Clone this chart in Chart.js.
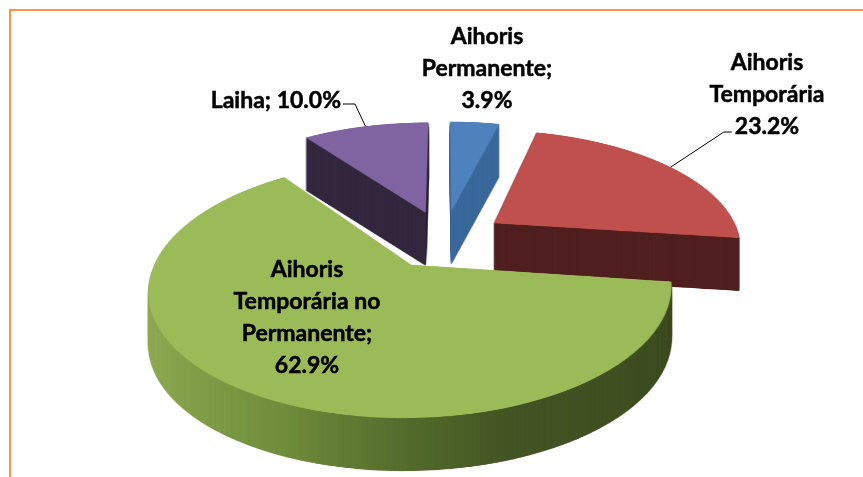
<!DOCTYPE html>
<html>
<head>
<meta charset="utf-8">
<script src="https://cdn.jsdelivr.net/npm/chart.js@4.4.1/dist/chart.umd.min.js"></script>
<style>
  html, body { margin: 0; padding: 0; overflow: hidden; background: #fff; }
  #wrap { position: relative; width: 863px; height: 477px; }
  #frame { position: absolute; left: 9px; top: 9px; width: 900px; height: 520px;
           border: 2px solid #f79646; box-sizing: border-box; }
  canvas { position: absolute; left: 0; top: 0; }
</style>
</head>
<body>
<div id="wrap">
  <div id="frame"></div>
  <canvas id="pie" width="863" height="477"></canvas>
</div>
<script>
// ---- data ----
const categories = ["Aihoris Permanente", "Aihoris Temporária", "Aihoris Temporária no Permanente", "Laiha"];
const shares = [3.9, 23.2, 62.9, 10.0];
const labelLines = [
  ["Aihoris", "Permanente;"],
  ["Aihoris", "Temporária"],
  ["Aihoris", "Temporária no", "Permanente;"],
  ["Laiha;"]
];

// ---- styles ----
const topColors = ["#4f81bd", "#c0504d", "#9bbb59", "#8064a2"];
const sideFills = [
  "#3b699c",
  "#501f1f",
  [[150, "#8eab52"], [300, "#718e3c"], [420, "#52692c"], [500, "#435524"], [670, "#3d4c20"]],
  "#33283e"
];
const FONT = "bold 23px Lato, 'DejaVu Sans', sans-serif";

// ---- fake 3d: perspective warp of the flat pie ----
const CX = 444, CY = 239;   // screen position of the pie centre
const SX = 1.372;           // horizontal scale
const B = 0.64;             // vertical scale
const PERSP = 0.001;        // perspective strength (front gets bigger)
const EXPLODE = 45;         // explode distance (chart units)
const DEPTH = 53;           // thickness in px
const RADIUS = 180;
const HALF = 240, SS = 2;   // offscreen half size (chart units) and supersampling

function toScreen(u, v) {
  const w = 1 / (1 - PERSP * v);
  return [CX + SX * u * w, CY + B * v * w];
}
function rowToV(y) {
  const Y = y - CY;
  return Y / (B + PERSP * Y);
}

function flatCanvas() {
  const c = document.createElement("canvas");
  c.width = c.height = HALF * 2 * SS;
  return c;
}

function fillFor(ctx, style, arc, ex) {
  if (!Array.isArray(style)) return style;
  const u = sx => arc.x - ex + (sx - CX) / (SX * 1.1);
  const first = style[0][0], last = style[style.length - 1][0];
  const g = ctx.createLinearGradient(u(first), 0, u(last), 0);
  style.forEach(([sx, c]) => g.addColorStop((sx - first) / (last - first), c));
  return g;
}

// draw every arc of the chart (flat, exploded) into an offscreen canvas
function renderFlat(arcs, styles) {
  const c = flatCanvas();
  const ctx = c.getContext("2d");
  arcs.forEach((arc, i) => {
    const mid = (arc.startAngle + arc.endAngle) / 2;
    const ex = Math.cos(mid) * EXPLODE, ey = Math.sin(mid) * EXPLODE;
    const saved = arc.options;
    ctx.setTransform(SS, 0, 0, SS, HALF * SS, HALF * SS);
    ctx.translate(ex - arc.x, ey - arc.y);
    arc.options = Object.assign({}, saved, { backgroundColor: fillFor(ctx, styles[i], arc, ex), borderWidth: 0 });
    arc.draw(ctx);
    arc.options = saved;
  });
  return c;
}

// row by row perspective warp of a flat image onto ctx
function warp(src, ctx) {
  ctx.save();
  ctx.imageSmoothingEnabled = true;
  ctx.imageSmoothingQuality = "high";
  const y0 = Math.floor(toScreen(0, -HALF)[1]);
  const y1 = Math.ceil(toScreen(0, HALF)[1]);
  for (let y = y0; y < y1; y++) {
    const va = rowToV(y), vb = rowToV(y + 1);
    const w = 1 / (1 - PERSP * (va + vb) / 2);
    const sy = (va + HALF) * SS, sh = (vb - va) * SS;
    if (sy < 0 || sy + sh > src.height) continue;
    ctx.drawImage(src, 0, sy, src.width, sh, CX - SX * w * HALF, y, SX * w * HALF * 2, 1);
  }
  ctx.restore();
}

const pie3d = {
  id: "pie3d",
  beforeDatasetsDraw(chart) {
    const ctx = chart.ctx;
    const arcs = chart.getDatasetMeta(0).data;
    // side walls: warped silhouette stacked downwards
    const side = document.createElement("canvas");
    side.width = chart.width; side.height = chart.height;
    warp(renderFlat(arcs, sideFills), side.getContext("2d"));
    for (let d = DEPTH; d >= 1; d--) ctx.drawImage(side, 0, d);
    // top faces
    warp(renderFlat(arcs, topColors), ctx);
    return false;
  }
};

// label placement (screen px)
const labelPos = [
  { x: 487, y: 37, align: "center" },
  { x: 767, y: 63, align: "center" },
  { x: 307, y: 270, align: "center" },
  { x: 341, y: 101, align: "right" }
];
const LINE_H = 32;

function edgePoint(arc) {
  const mid = (arc.startAngle + arc.endAngle) / 2;
  const r = EXPLODE + arc.outerRadius;
  return toScreen(Math.cos(mid) * r, Math.sin(mid) * r);
}

const labels = {
  id: "labels",
  afterDraw(chart) {
    const ctx = chart.ctx;
    const arcs = chart.getDatasetMeta(0).data;
    ctx.save();
    ctx.font = FONT;
    ctx.fillStyle = "#000";
    ctx.strokeStyle = "#000";
    ctx.lineWidth = 0.5;
    ctx.textBaseline = "middle";
    labelPos.forEach((p, i) => {
      const lines = labelLines[i].slice();
      const pct = shares[i].toFixed(1) + "%";
      if (i === 3) lines[0] = lines[0] + " " + pct; else lines.push(pct);
      ctx.textAlign = p.align;
      lines.forEach((t, j) => {
        ctx.fillText(t, p.x, p.y + j * LINE_H);
        ctx.strokeText(t, p.x, p.y + j * LINE_H);
      });
    });

    // leader lines
    ctx.lineWidth = 1;
    let [ax, ay] = edgePoint(arcs[3]);
    let p = labelPos[3];
    ctx.beginPath();
    ctx.moveTo(p.x + 2, p.y + 3);
    ctx.lineTo(p.x + 14, p.y + 3);
    ctx.lineTo(ax, ay);
    ctx.stroke();

    [ax, ay] = edgePoint(arcs[1]);
    p = labelPos[1];
    const ly = p.y + 2 * LINE_H;
    const w = ctx.measureText(shares[1].toFixed(1) + "%").width;
    ctx.beginPath();
    ctx.moveTo(p.x - w / 2 - 3, ly + 5);
    ctx.lineTo(p.x - w / 2 - 11, ly + 5);
    ctx.lineTo(ax, ay);
    ctx.stroke();
    ctx.restore();
  }
};

new Chart(document.getElementById("pie"), {
  type: "pie",
  data: {
    labels: categories,
    datasets: [{
      data: shares,
      backgroundColor: topColors,
      borderWidth: 0
    }]
  },
  options: {
    responsive: false,
    animation: false,
    radius: RADIUS,
    events: [],
    plugins: { legend: { display: false }, tooltip: { enabled: false } }
  },
  plugins: [pie3d, labels]
});
</script>
</body>
</html>
